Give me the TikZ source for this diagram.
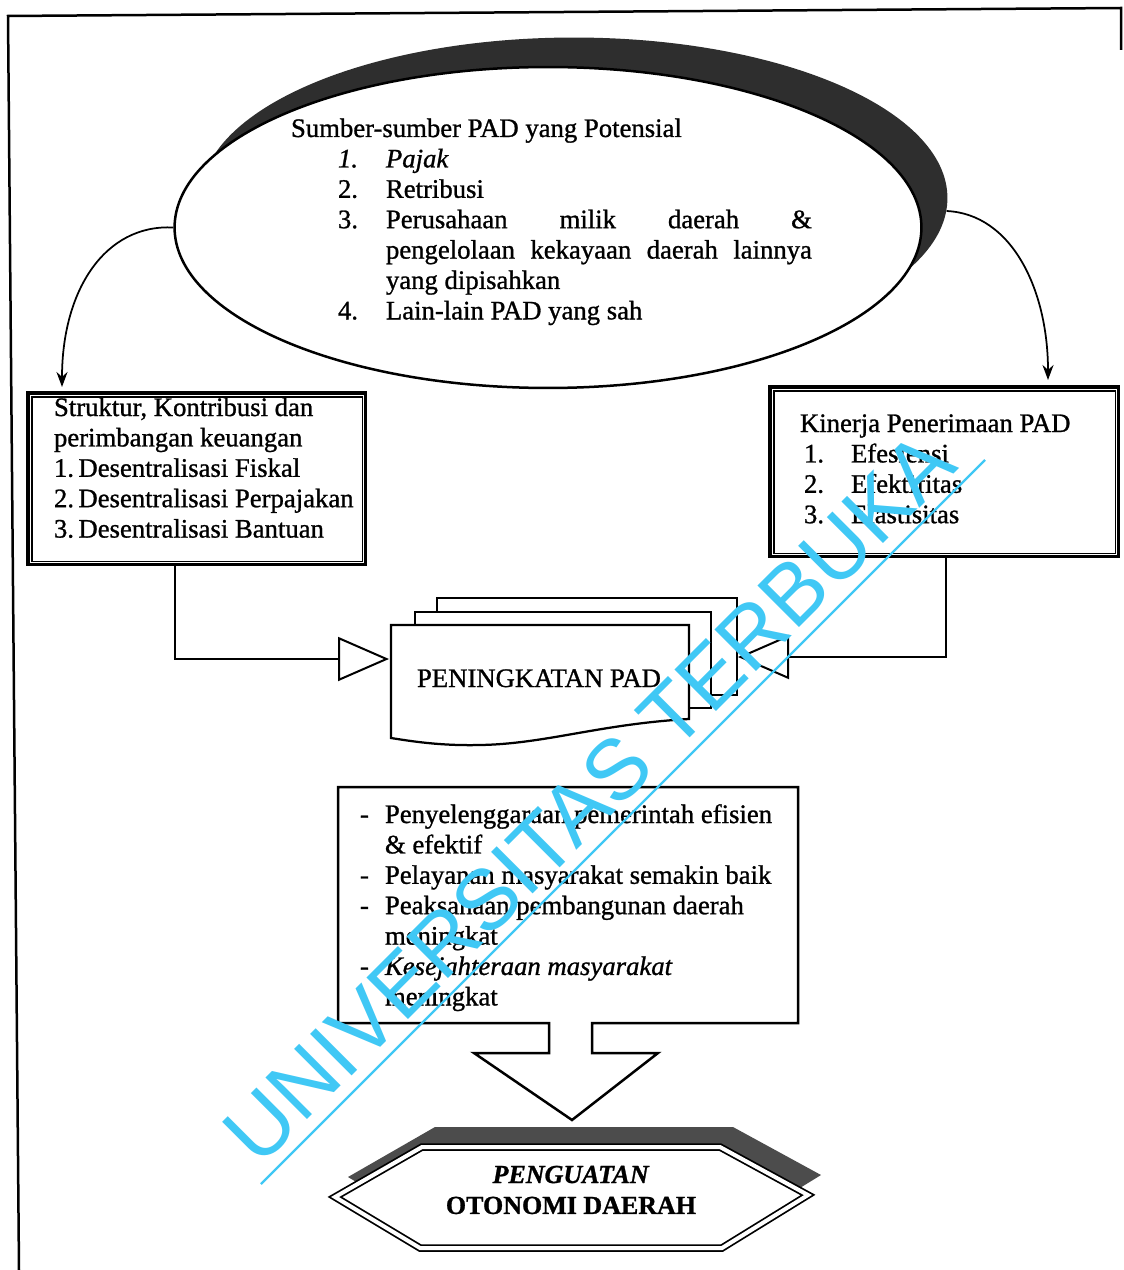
\documentclass[tikz,border=0pt]{standalone}
\usepackage{fontspec}
\setmainfont{Liberation Serif}[FakeBold=1]
\newfontfamily\wmfont{Liberation Sans}
\usetikzlibrary{shapes.geometric,arrows.meta,calc}
\definecolor{wmcyan}{RGB}{64,200,245}
\newcommand\txtsize{\fontsize{15.2}{17.3}\selectfont}
\begin{document}
\begin{tikzpicture}[x=0.02cm,y=-0.02cm,
  txt/.style={inner sep=0pt, outer sep=0pt, anchor=base west, font=\txtsize},
  bline/.style={line width=0.05cm, line join=miter},
  curvearrow/.style={line width=0.035cm, -{Stealth[length=0.3cm,width=0.22cm]}},
  openarrow/.style={line width=0.055cm, -{Triangle[open,length=1.02cm,width=0.88cm,line width=0.04cm]}},
  page/.style={draw, fill=white, line width=0.045cm, line join=miter},
  ]
\useasboundingbox (0,0) rectangle (1123,1270);
\fill[white] (0,0) rectangle (1123,1270);

% outer frame
\draw[line width=0.05cm] (19,1270) -- (8,16) -- (1121,8) -- (1121,50);

% ellipse with shadow
\node[ellipse, fill=black!82, minimum width=14.94cm, minimum height=6.42cm, inner sep=0] (ellshadow) at (574,198) {};
\node[ellipse, draw, bline, fill=white, minimum width=14.94cm, minimum height=6.42cm, inner sep=0] (ell) at (548,227.5) {};
\node[txt] (elltxt) at (291,137) {\begin{tabular}[t]{@{}p{1.9cm}@{}l@{}}
\multicolumn{2}{@{}l@{}}{Sumber-sumber PAD yang Potensial}\\
\hspace*{0.94cm}\textit{1.} & \textit{Pajak}\\
\hspace*{0.94cm}2. & Retribusi\\
\hspace*{0.94cm}3. & \makebox[8.52cm][s]{Perusahaan milik daerah \&}\\
 & \makebox[8.52cm][s]{pengelolaan kekayaan daerah lainnya}\\
 & yang dipisahkan\\
\hspace*{0.94cm}4. & Lain-lain PAD yang sah
\end{tabular}};

% left box
\node[draw, line width=0.07cm, minimum width=6.76cm, minimum height=3.44cm, anchor=north west, inner sep=0] (lbox) at (26,391) {};
\draw[line width=0.03cm] ($(lbox.north west)+(6,6)$) rectangle ($(lbox.south east)+(-5,-5)$);
\node[txt] (ltxt) at (54,416) {\begin{tabular}[t]{@{}l@{}}
Struktur, Kontribusi dan\\
perimbangan keuangan\\
1.\,Desentralisasi Fiskal\\
2.\,Desentralisasi Perpajakan\\
3.\,Desentralisasi Bantuan
\end{tabular}};

% right box
\node[draw, line width=0.07cm, minimum width=6.98cm, minimum height=3.4cm, anchor=north west, inner sep=0] (rbox) at (768,385) {};
\draw[line width=0.03cm] ($(rbox.north west)+(6,6)$) rectangle ($(rbox.south east)+(-5,-5)$);
\node[txt] (rtxt) at (800,432) {\begin{tabular}[t]{@{}p{1.02cm}@{}l@{}}
\multicolumn{2}{@{}l@{}}{Kinerja Penerimaan PAD}\\
\hspace*{0.08cm}1. & Efesiensi\\
\hspace*{0.08cm}2. & Efektifitas\\
\hspace*{0.08cm}3. & Elastisitas
\end{tabular}};

% curved arrows from ellipse
\coordinate (la) at (62,387);
\coordinate (ra) at (1048,380);
\draw[curvearrow] (ell.west) .. controls (105,224) and (62,290) .. (la);
\draw[curvearrow] (ellshadow.-2) .. controls (1012,214) and (1048,290) .. (ra);

% document stack
\draw[page] (437,598) rectangle (737,695);
\draw[page] (415,612) rectangle (711,708);
\draw[page] (391,738) -- (391,625) -- (689,625) -- (689,719)
   .. controls (600,724) and (545,744) .. (480,745)
   .. controls (440,746) and (410,741) .. cycle;
\node[txt] (doctxt) at (417,687) {PENINGKATAN PAD};
\coordinate (docL) at (389,659);
\coordinate (docR) at (738,657);

% connectors with open triangle heads
\draw[openarrow] (175,0 |- lbox.south) |- (docL);
\draw[openarrow] (946,0 |- rbox.south) |- (docR);

% result box with block arrow
\node[txt] (btxt) at (360,823) {\begin{tabular}[t]{@{}p{0.5cm}@{}l@{}}
- & Penyelenggaraan pemerintah efisien\\
  & \& efektif\\
- & Pelayanan masyarakat semakin baik\\
- & Peaksanaan pembangunan daerah\\
  & meningkat\\
- & \textit{Kesejahteraan masyarakat}\\
  & meningkat
\end{tabular}};
\draw[bline] (549,1023) -| (338,787) -| (798,1023) -- (592,1023) -- (592,1053)
   -- (658,1053) -- (572,1120) -- (474,1053) -- (549,1053) -- cycle;

% hexagon with shadow
\fill[black!70] (348,1177) -- (435,1127) -- (733,1127) -- (821,1175) -- (735,1228) -- (433,1228) -- cycle;
\draw[fill=white, draw=black, line width=0.035cm, double=white, double distance=0.08cm, line join=miter]
   (335,1197) -- (422,1147) -- (720,1147) -- (808,1195) -- (722,1248) -- (420,1248) -- cycle;
\coordinate (hex) at (571,1197);
\node[inner sep=0, anchor=base, font=\bfseries\fontsize{14.8}{17.6}\selectfont] (hextxt) at (571,1183)
  {\begin{tabular}[t]{@{}c@{}}\textit{PENGUATAN}\\ OTONOMI DAERAH\end{tabular}};

% watermark
\node[rotate=45, anchor=base west, inner sep=0, text=wmcyan, font=\wmfont\fontsize{48.6}{50}\selectfont] (wm) at (259,1168.5) {UNIVERSITAS TERBUKA};
\coordinate (ul1) at (261,1184);
\coordinate (ul2) at (985,460);
\draw[wmcyan, line width=0.045cm] (ul1) -- (ul2);
\end{tikzpicture}
\end{document}
